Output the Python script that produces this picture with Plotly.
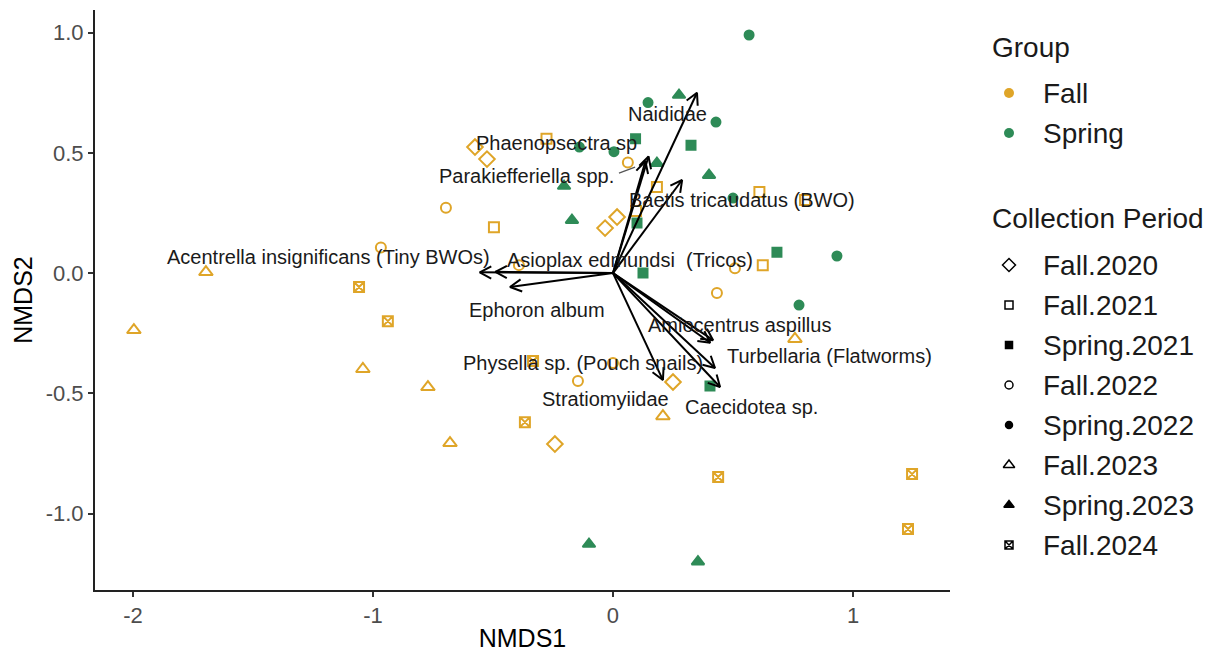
import math
import plotly.graph_objects as go

# ---- NMDS site scores by collection period ----
fall2020_x = [-0.575, -0.525, -0.033, 0.017, 0.250, -0.242]
fall2020_y = [0.524, 0.474, 0.187, 0.233, -0.453, -0.711]

fall2021_x = [-0.277, -0.496, 0.183, 0.096, 0.610, 0.800, 0.624]
fall2021_y = [0.559, 0.191, 0.358, 0.258, 0.337, 0.304, 0.033]

spring2021_x = [0.094, 0.325, 0.100, 0.683, 0.125, 0.404]
spring2021_y = [0.559, 0.532, 0.208, 0.087, 0.000, -0.470]

fall2022_x = [-0.696, -0.967, -0.392, 0.062, 0.508, 0.433, 0.000, -0.146]
fall2022_y = [0.272, 0.106, 0.033, 0.460, 0.020, -0.083, -0.374, -0.449]

spring2022_x = [0.567, 0.146, 0.429, -0.140, 0.004, 0.500, 0.933, 0.775]
spring2022_y = [0.990, 0.709, 0.628, 0.524, 0.505, 0.312, 0.071, -0.133]

fall2023_x = [-1.696, -1.996, -1.042, -0.771, -0.679, 0.208, 0.758]
fall2023_y = [0.004, -0.237, -0.399, -0.474, -0.707, -0.595, -0.274]

spring2023_x = [0.275, 0.183, 0.400, -0.204, -0.171, -0.100, 0.354]
spring2023_y = [0.740, 0.457, 0.407, 0.362, 0.220, -1.127, -1.200]

fall2024_x = [-1.058, -0.938, -0.333, -0.367, 0.438, 1.246, 1.229]
fall2024_y = [-0.058, -0.200, -0.366, -0.620, -0.848, -0.836, -1.064]

# ---- species vectors (envfit) ----
species = [
    "Naididae",
    "Phaenopsectra sp",
    "Parakiefferiella spp.",
    "Baetis tricaudatus (BWO)",
    "Acentrella insignificans (Tiny BWOs)",
    "Asioplax edmundsi  (Tricos)",
    "Ephoron album",
    "Amiocentrus aspillus",
    "Physella sp. (Pouch snails)",
    "Turbellaria (Flatworms)",
    "Caecidotea sp.",
    "Stratiomyiidae",
]
vec_x = [0.350, 0.148, 0.135, 0.288, -0.555, -0.490, -0.429, 0.417, 0.405, 0.425, 0.446, 0.208]
vec_y = [0.750, 0.485, 0.465, 0.387, 0.003, 0.005, -0.058, -0.279, -0.290, -0.395, -0.474, -0.445]

periods = ["Fall.2020", "Fall.2021", "Spring.2021", "Fall.2022",
           "Spring.2022", "Fall.2023", "Spring.2023", "Fall.2024"]
groups = ["Fall", "Spring"]

# ---- styling ----
FALL = "#DFA528"
SPRING = "#2E8B57"
FONT = "Liberation Sans, Arial, sans-serif"

period_style = {
    "Fall.2020":   dict(color=FALL,   symbol="diamond-open",     size=12),
    "Fall.2021":   dict(color=FALL,   symbol="square-open",      size=10),
    "Spring.2021": dict(color=SPRING, symbol="square",           size=9),
    "Fall.2022":   dict(color=FALL,   symbol="circle-open",      size=10),
    "Spring.2022": dict(color=SPRING, symbol="circle",           size=9),
    "Fall.2023":   dict(color=FALL,   symbol="triangle-up-open", size=12),
    "Spring.2023": dict(color=SPRING, symbol="triangle-up",      size=11),
    "Fall.2024":   dict(color=FALL,   symbol="square-x-open",    size=10),
}
period_data = {
    "Fall.2020": (fall2020_x, fall2020_y),
    "Fall.2021": (fall2021_x, fall2021_y),
    "Spring.2021": (spring2021_x, spring2021_y),
    "Fall.2022": (fall2022_x, fall2022_y),
    "Spring.2022": (spring2022_x, spring2022_y),
    "Fall.2023": (fall2023_x, fall2023_y),
    "Spring.2023": (spring2023_x, spring2023_y),
    "Fall.2024": (fall2024_x, fall2024_y),
}

# label placement (repelled positions, data units)
label_pos = {
    "Naididae": (0.229, 0.661),
    "Phaenopsectra sp": (-0.235, 0.541),
    "Parakiefferiella spp.": (-0.362, 0.403),
    "Baetis tricaudatus (BWO)": (0.538, 0.304),
    "Acentrella insignificans (Tiny BWOs)": (-1.185, 0.066),
    "Asioplax edmundsi  (Tricos)": (0.071, 0.054),
    "Ephoron album": (-0.317, -0.154),
    "Amiocentrus aspillus": (0.525, -0.216),
    "Physella sp. (Pouch snails)": (-0.123, -0.374),
    "Turbellaria (Flatworms)": (0.900, -0.345),
    "Caecidotea sp.": (0.575, -0.557),
    "Stratiomyiidae": (-0.033, -0.524),
}
leader = {"Parakiefferiella spp.": ((0.025, 0.416), (0.092, 0.441))}

# plot geometry
W, H = 1209, 652
ML, MT, MB = 95, 10, 62
PANEL_R = 950
XR = [-2.158, 1.404]
YR = [-1.318, 1.094]
panel_w = PANEL_R - ML
panel_h = H - MT - MB
sx = panel_w / (XR[1] - XR[0])
sy = panel_h / (YR[1] - YR[0])

fig = go.Figure()

# site points
for p in periods:
    xs, ys = period_data[p]
    st = period_style[p]
    fig.add_trace(go.Scatter(
        x=xs, y=ys, mode="markers", name=p, showlegend=False,
        marker=dict(symbol=st["symbol"], size=st["size"], color=st["color"],
                    line=dict(color=st["color"], width=2)),
        hoverinfo="skip"))

# species arrows with open heads
ax, ay = [], []
HEAD = 13.0
ANG = math.radians(28)
for vx, vy in zip(vec_x, vec_y):
    ax += [0, vx, None]
    ay += [0, vy, None]
    px, py = vx * sx, vy * sy
    th = math.atan2(py, px)
    wings = []
    for s in (1, -1):
        phi = th + math.pi + s * ANG
        wings.append(((px + HEAD * math.cos(phi)) / sx, (py + HEAD * math.sin(phi)) / sy))
    ax += [wings[0][0], vx, wings[1][0], None]
    ay += [wings[0][1], vy, wings[1][1], None]
fig.add_trace(go.Scatter(x=ax, y=ay, mode="lines", showlegend=False,
                         line=dict(color="black", width=2), hoverinfo="skip"))

for name, (p0, p1) in leader.items():
    fig.add_trace(go.Scatter(x=[p0[0], p1[0]], y=[p0[1], p1[1]], mode="lines",
                             showlegend=False, line=dict(color="#555", width=1.3),
                             hoverinfo="skip"))

for name in species:
    lx, ly = label_pos[name]
    fig.add_annotation(x=lx, y=ly, xref="x", yref="y", text=name, showarrow=False,
                       font=dict(family=FONT, size=20, color="#1a1a1a"),
                       xanchor="center", yanchor="middle")

# ---- legend drawn on an auxiliary axis (pixel units) ----
LX_KEY, LX_TXT, LX_TITLE = 1009, 1041, 990
legend_font = dict(family=FONT, size=28, color="#1a1a1a")

fig.add_annotation(x=LX_TITLE, y=47, xref="x2", yref="y2", text="Group", showarrow=False,
                   xanchor="left", yanchor="middle", font=legend_font)
for i, g in enumerate(groups):
    yy = 93 + 40 * i
    fig.add_trace(go.Scatter(x=[LX_KEY], y=[yy], xaxis="x2", yaxis="y2", mode="markers",
                             showlegend=False, hoverinfo="skip",
                             marker=dict(symbol="circle", size=10,
                                         color=FALL if g == "Fall" else SPRING)))
    fig.add_annotation(x=LX_TXT, y=yy, xref="x2", yref="y2", text=g, showarrow=False,
                       xanchor="left", yanchor="middle", font=legend_font)

fig.add_annotation(x=LX_TITLE, y=218, xref="x2", yref="y2", text="Collection Period",
                   showarrow=False, xanchor="left", yanchor="middle", font=legend_font)
for i, p in enumerate(periods):
    yy = 265 + 40 * i
    st = period_style[p]
    fig.add_trace(go.Scatter(x=[LX_KEY], y=[yy], xaxis="x2", yaxis="y2", mode="markers",
                             showlegend=False, hoverinfo="skip",
                             marker=dict(symbol=st["symbol"], size=st["size"] - 2,
                                         color="black", line=dict(color="black", width=1.5))))
    fig.add_annotation(x=LX_TXT, y=yy, xref="x2", yref="y2", text=p, showarrow=False,
                       xanchor="left", yanchor="middle", font=legend_font)

plot_w = W - ML
split = panel_w / plot_w

tick_font = dict(family=FONT, size=22, color="#4D4D4D")
title_font = dict(family=FONT, size=25, color="black")

fig.update_layout(
    width=W, height=H,
    margin=dict(l=ML, r=0, t=MT, b=MB, pad=0),
    paper_bgcolor="white", plot_bgcolor="white",
    showlegend=False,
    xaxis=dict(domain=[0, split], range=XR, showgrid=False, zeroline=False,
               showline=True, linecolor="#222", linewidth=2,
               ticks="outside", ticklen=5, tickwidth=1.8, tickcolor="#333",
               tickvals=[-2, -1, 0, 1], ticktext=["-2", "-1", "0", "1"],
               tickfont=tick_font,
               title=dict(text="NMDS1", font=title_font, standoff=6)),
    yaxis=dict(domain=[0, 1], range=YR, showgrid=False, zeroline=False,
               showline=True, linecolor="#222", linewidth=2,
               ticks="outside", ticklen=5, tickwidth=1.8, tickcolor="#333",
               tickvals=[-1, -0.5, 0, 0.5, 1],
               ticktext=["-1.0", "-0.5", "0.0", "0.5", "1.0"],
               tickfont=tick_font,
               title=dict(text="NMDS2", font=title_font, standoff=6)),
    xaxis2=dict(domain=[split, 1], range=[PANEL_R, W], visible=False, fixedrange=True),
    yaxis2=dict(domain=[0, 1], range=[H - MB, MT], visible=False, fixedrange=True,
                anchor="x2"),
)

fig.write_html("out.html")
